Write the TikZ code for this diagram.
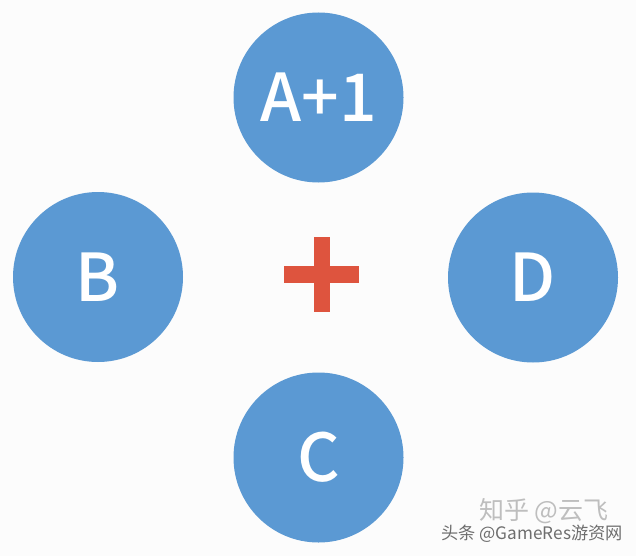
\documentclass[tikz,border=0pt]{standalone}
\usepackage{fontspec}
\setmainfont{Liberation Sans}
\newfontfamily\cjkfont{Noto Sans CJK SC}
\newfontfamily\ballfont{Noto Sans CJK SC Medium}
\definecolor{ballblue}{RGB}{91,153,211}
\definecolor{plusred}{RGB}{222,84,62}
\definecolor{markgray}{RGB}{110,110,110}
\tikzset{
  ball/.style={circle,fill=ballblue,minimum size=170pt,inner sep=0pt,
    text=white,font=\ballfont\fontsize{66}{66}\selectfont}
}
\begin{document}
\begin{tikzpicture}[x=1pt,y=-1pt]
	\fill[white!98!gray] (0,0) rectangle (636,556);
	\useasboundingbox (0,0) rectangle (636,556);
	% four circles
	\node[ball] (nA) at (318.5,97.5) {A+1};
	\node[ball] (nB) at (98,277) {B};
	\node[ball] (nD) at (533,277.5) {D};
	\node[ball] (nC) at (318.5,457.5) {C};
	% plus sign in the middle
	\fill[plusred] (284,266) rectangle (359,283);
	\fill[plusred] (314,237) rectangle (330,312);
	% watermark
	\node[text=markgray!45,font=\cjkfont\fontsize{25}{25}\selectfont] (wmA) at (544,511) {知乎 @云飞};
	\node[text=markgray,font=\cjkfont\fontsize{17.2}{17.2}\selectfont] (wmB) at (532,534) {头条 @GameRes游资网};
\end{tikzpicture}
\end{document}
